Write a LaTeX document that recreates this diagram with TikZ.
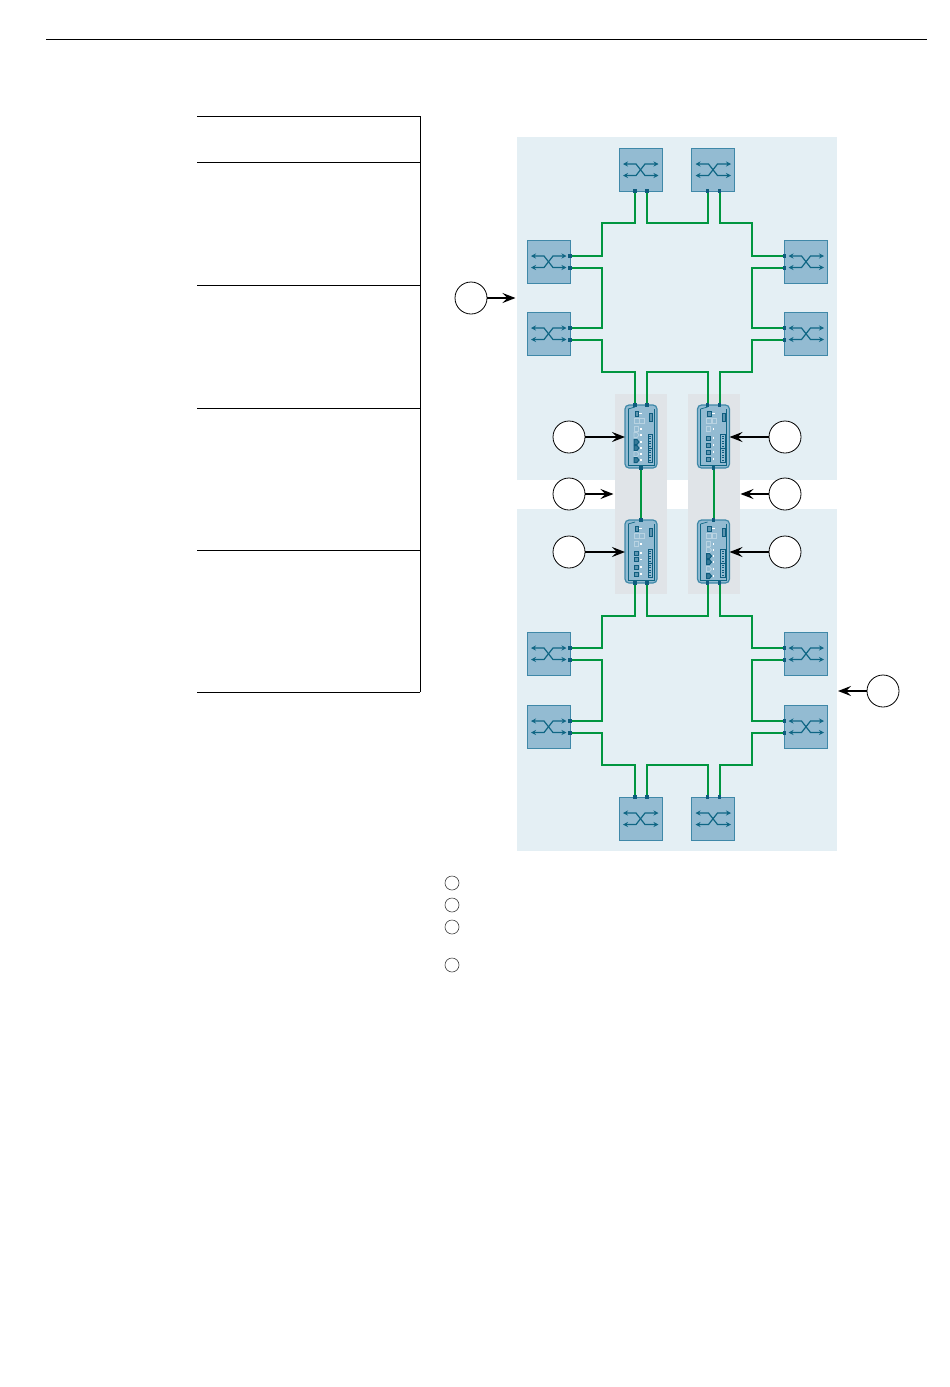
\documentclass[tikz,border=0pt]{standalone}
\usetikzlibrary{arrows.meta}
\definecolor{panelblue}{HTML}{E4EFF4}
\definecolor{panelgrey}{HTML}{E0E4E8}
\definecolor{swfill}{HTML}{93BBD2}
\definecolor{swline}{HTML}{3F88A8}
\definecolor{icon}{HTML}{0F6684}
\definecolor{portc}{HTML}{0E5C7E}
\definecolor{wirec}{HTML}{009640}
\definecolor{lightc}{HTML}{B9D3E2}
\tikzset{
  x=1pt,y=-1pt,
  rulel/.style={line width=0.8pt,black},
  panel/.style={fill=panelblue,draw=none},
  zone/.style={fill=panelgrey,draw=none},
  switchbox/.style={rectangle,minimum size=43pt,inner sep=0pt,outer sep=0pt,fill=swfill,draw=swline,line width=0.9pt},
  devicebox/.style={rectangle,rounded corners=4pt,minimum width=32pt,minimum height=63pt,inner sep=0pt,outer sep=0pt,fill=swfill,draw=swline,line width=1.2pt},
  wire/.style={draw=wirec,line width=2pt,line join=miter},
  seticon/.style={draw=icon,line width=1.2pt,{Stealth[length=5pt,width=5pt]}-{Stealth[length=5pt,width=5pt]}},
  portsq/.style={rectangle,minimum size=3.2pt,inner sep=0pt,fill=portc,draw=none},
  callout/.style={circle,draw=black,line width=0.8pt,minimum size=32pt,inner sep=0pt,outer sep=0pt,fill=white},
  legendc/.style={circle,draw=black!75,line width=0.6pt,minimum size=14pt,inner sep=0pt,fill=white},
  pointer/.style={draw=black,line width=1.4pt,-{Stealth[length=13pt,width=10pt,inset=5pt]}},
  dk/.style={draw=portc,line width=1pt,fill=swfill!60!portc},
  lt/.style={draw=lightc,line width=0.8pt,fill=swfill},
}
% name, left x, top y
\newcommand{\swbox}[3]{%
  \node[switchbox] (#1) at (#2+21.5,#3+21.5) {};
  \coordinate (#1-t1) at (#2+16,#3);
  \coordinate (#1-t2) at (#2+28,#3);
  \coordinate (#1-b1) at (#2+16,#3+43);
  \coordinate (#1-b2) at (#2+28,#3+43);
  \coordinate (#1-l1) at (#2,#3+16);
  \coordinate (#1-l2) at (#2,#3+28);
  \coordinate (#1-r1) at (#2+43,#3+16);
  \coordinate (#1-r2) at (#2+43,#3+28);
  \draw[seticon] (#2+4,#3+16) -- (#2+17,#3+16) -- (#2+26,#3+27.5) -- (#2+39.5,#3+27.5);
  \draw[seticon] (#2+4,#3+27.5) -- (#2+17,#3+27.5) -- (#2+26,#3+16) -- (#2+39.5,#3+16);
}
\newcommand{\rjd}[1]{\draw[dk,fill=portc!70!swfill] (9,#1-2.5) -- (12,#1-2.5) -- (14,#1) -- (12,#1+2.5) -- (9,#1+2.5) -- cycle; \fill[white] (15.2,#1-0.8) rectangle ++(1.6,1.6);}
\newcommand{\rjl}[1]{\draw[lt] (9,#1-2.5) -- (12,#1-2.5) -- (14,#1) -- (12,#1+2.5) -- (9,#1+2.5) -- cycle; \fill[white] (15.2,#1-0.8) rectangle ++(1.6,1.6);}
\newcommand{\sqd}[1]{\draw[dk] (9,#1-2) rectangle ++(4,4); \fill[white] (15.2,#1-0.8) rectangle ++(1.6,1.6);}
% name, left x, top y, front-panel code
\newcommand{\devbox}[4]{%
  \node[devicebox] (#1) at (#2+16,#3+31.5) {};
  \coordinate (#1-t1) at (#2+10,#3);
  \coordinate (#1-t2) at (#2+22,#3);
  \coordinate (#1-tc) at (#2+16,#3);
  \coordinate (#1-b1) at (#2+10,#3+63);
  \coordinate (#1-b2) at (#2+22,#3+63);
  \coordinate (#1-bc) at (#2+16,#3+63);
  \begin{scope}[shift={(#2,#3)}]
    \draw[icon,line width=0.9pt] (3,4) -- (3,60) -- (29,60) -- (29,4);
    \draw[icon,line width=0.7pt] (3,4) -- (10,2);
    \draw[dk] (10,6.5) rectangle ++(3.6,5);
    \draw[lt] (9,13.5) rectangle ++(5,5);
    \draw[lt] (14.5,13.5) rectangle ++(4.8,5);
    \draw[dk] (24.5,8) rectangle ++(3,8);
    \draw[lt] (9,21) rectangle ++(4,5);
    \fill[white] (14,8) rectangle ++(3,1);
    \fill[white] (15.2,23) rectangle ++(1.6,1.6);
    \draw[dk,fill=swfill] (23,29) rectangle ++(4.5,14);
    \draw[dk,fill=swfill] (23,43) rectangle ++(4.5,14);
    \foreach \dy in {31,33.5,36,38.5,41,45,47.5,50,52.5,55} \fill[portc] (24.3,\dy-0.5) rectangle ++(1.9,1);
    #4
  \end{scope}
}
\begin{document}
\begin{tikzpicture}
\useasboundingbox (0,0) rectangle (950,1387);
\fill[white] (0,0) rectangle (950,1387);

% page rule and table rules
\coordinate (ruleL) at (46,39.5); \coordinate (ruleR) at (927,39.5);
\draw[rulel] (ruleL) -- (ruleR);
\foreach \yy in {116,162,285,408,550,692} \draw[rulel] (197,\yy) -- (420,\yy);
\draw[rulel] (420,116) -- (420,692);

% panels
\fill[panel] (517,137) rectangle (837,480);
\fill[panel] (517,509) rectangle (837,851);
\fill[zone] (615,394) rectangle (667,594);
\fill[zone] (688,394) rectangle (740,594);

% switches
\swbox{sA}{619}{148}
\swbox{sB}{691.5}{148}
\swbox{sC}{527}{240}
\swbox{sD}{527}{312}
\swbox{sE}{784.5}{240}
\swbox{sF}{784.5}{312}
\swbox{sG}{527}{632}
\swbox{sH}{527}{705}
\swbox{sI}{784.5}{632}
\swbox{sJ}{784.5}{705}
\swbox{sK}{619}{797}
\swbox{sL}{691.5}{797}

% devices
\devbox{dA}{625}{405}{\rjl{30}\rjd{37}\rjd{43}\rjl{49}\rjd{55}}
\devbox{dB}{697.5}{405}{\sqd{33}\sqd{40}\sqd{47}\sqd{54}}
\devbox{dC}{625}{520}{\sqd{33}\sqd{39.5}\sqd{47}\sqd{54}}
\devbox{dD}{697.5}{520}{\rjl{30}\rjd{36}\rjd{42}\rjl{49}\rjd{56}}

% connectors, upper ring
\draw[wire] (sA-b1) |- (602,223) |- (sC-r1);
\draw[wire] (sA-b2) |- (707.5,223) -- (sB-b1);
\draw[wire] (sB-b2) |- (752,223) |- (sE-l1);
\draw[wire] (sC-r2) -| (602,300) |- (sD-r1);
\draw[wire] (sE-l2) -| (752,300) |- (sF-l1);
\draw[wire] (sD-r2) -| (602,372) -| (dA-t1);
\draw[wire] (dA-t2) |- (707.5,372) -- (dB-t1);
\draw[wire] (dB-t2) |- (752,372) |- (sF-l2);
% links between the rings
\draw[wire] (dA-bc) -- (dC-tc);
\draw[wire] (dB-bc) -- (dD-tc);
% connectors, lower ring
\draw[wire] (dC-b1) |- (602,616) |- (sG-r1);
\draw[wire] (dC-b2) |- (707.5,616) -- (dD-b1);
\draw[wire] (dD-b2) |- (752,616) |- (sI-l1);
\draw[wire] (sG-r2) -| (602,690) |- (sH-r1);
\draw[wire] (sI-l2) -| (752,690) |- (sJ-l1);
\draw[wire] (sH-r2) -| (602,765) -| (sK-t1);
\draw[wire] (sK-t2) |- (707.5,765) -- (sL-t1);
\draw[wire] (sL-t2) |- (752,765) |- (sJ-l2);

% port squares
\foreach \p in {sA-b1,sA-b2,sB-b1,sB-b2,sC-r1,sC-r2,sD-r1,sD-r2,sE-l1,sE-l2,sF-l1,sF-l2,
  sG-r1,sG-r2,sH-r1,sH-r2,sI-l1,sI-l2,sJ-l1,sJ-l2,sK-t1,sK-t2,sL-t1,sL-t2,
  dA-t1,dA-t2,dA-bc,dB-t1,dB-t2,dB-bc,dC-b1,dC-b2,dC-tc,dD-b1,dD-b2,dD-tc}
  \node[portsq] (q\p) at (\p) {};

% callouts
\node[callout] (cA) at (471,298) {};
\node[callout] (cB) at (569,437) {};
\node[callout] (cC) at (569,494) {};
\node[callout] (cD) at (569,552) {};
\node[callout] (cE) at (785,437) {};
\node[callout] (cF) at (785,494) {};
\node[callout] (cG) at (785,552) {};
\node[callout] (cH) at (883,691) {};
\coordinate (tA) at (515.5,298);
\coordinate (tC) at (613.5,494);
\coordinate (tF) at (740.5,494);
\coordinate (tH) at (838,691);
\draw[pointer] (cA) -- (tA);
\draw[pointer] (cB) -- (dA.west |- cB);
\draw[pointer] (cC) -- (tC);
\draw[pointer] (cD) -- (dC.west |- cD);
\draw[pointer] (cE) -- (dB.east |- cE);
\draw[pointer] (cF) -- (tF);
\draw[pointer] (cG) -- (dD.east |- cG);
\draw[pointer] (cH) -- (tH);

% legend circles
\node[legendc] (lA) at (452,883) {};
\node[legendc] (lB) at (452,905) {};
\node[legendc] (lC) at (452,927) {};
\node[legendc] (lD) at (452,965) {};
\end{tikzpicture}
\end{document}
